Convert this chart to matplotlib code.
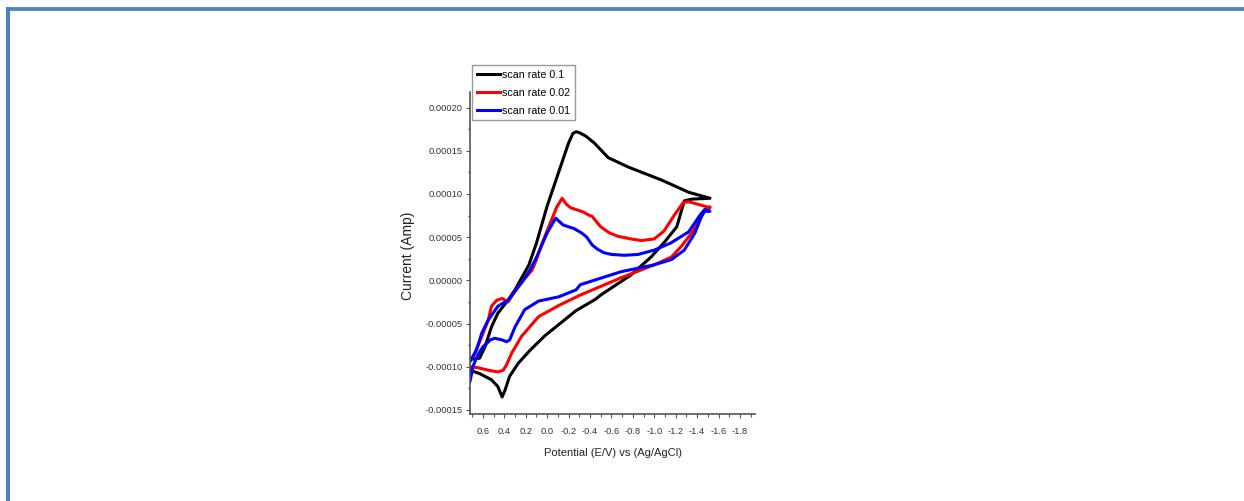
import matplotlib
matplotlib.use('Agg')
import matplotlib.pyplot as plt
from matplotlib.lines import Line2D
from matplotlib.ticker import FixedLocator, FormatStrFormatter
import numpy as np

# currents are in units of 1e-5 A, potentials in V vs Ag/AgCl
# scan rate 0.1
e_fwd_01 = [0.80, 0.72, 0.63, 0.52, 0.46, 0.42, 0.39, 0.35, 0.27, 0.16, 0.02, -0.12,
            -0.27, -0.45, -0.50, -0.78, -0.97, -1.10, -1.21, -1.28, -1.35, -1.52]
i_fwd_01 = [-10.2, -10.4, -10.8, -11.5, -12.3, -13.5, -12.6, -11.1, -9.6, -8.1, -6.4, -5.0,
            -3.5, -2.2, -1.7, 0.6, 2.7, 4.5, 6.2, 9.2, 9.4, 9.5]
e_rev_01 = [-1.52, -1.32, -1.07, -0.76, -0.57, -0.44, -0.36, -0.30, -0.27, -0.24, -0.20,
            0.00, 0.10, 0.17, 0.30, 0.365, 0.46, 0.52, 0.58, 0.63, 0.68, 0.80]
i_rev_01 = [9.5, 10.2, 11.6, 13.1, 14.2, 15.9, 16.7, 17.1, 17.2, 17.0, 15.9,
            8.6, 4.3, 1.8, -1.1, -2.3, -3.8, -5.4, -7.7, -9.0, -9.1, -9.1]

# scan rate 0.02
e_fwd_002 = [0.80, 0.72, 0.65, 0.55, 0.46, 0.41, 0.38, 0.33, 0.24, 0.08, -0.11, -0.31,
             -0.69, -1.00, -1.16, -1.25, -1.35, -1.44, -1.49, -1.52]
i_fwd_002 = [-9.9, -10.0, -10.1, -10.4, -10.6, -10.4, -9.8, -8.4, -6.5, -4.2, -2.9, -1.7,
             0.3, 1.8, 2.7, 3.9, 5.5, 7.4, 8.4, 8.5]
e_rev_002 = [-1.52, -1.41, -1.32, -1.27, -1.19, -1.09, -1.00, -0.88, -0.78, -0.66, -0.58,
             -0.50, -0.42, -0.38, -0.34, -0.22, -0.18, -0.14, -0.09, 0.06, 0.10, 0.14,
             0.27, 0.365, 0.42, 0.47, 0.52, 0.55, 0.61, 0.675, 0.72, 0.80]
i_rev_002 = [8.4, 8.8, 9.1, 9.0, 7.6, 5.7, 4.8, 4.6, 4.8, 5.1, 5.5,
             6.2, 7.4, 7.6, 7.9, 8.4, 8.8, 9.5, 8.5, 3.9, 2.4, 1.2,
             -0.7, -2.5, -2.1, -2.3, -3.0, -4.6, -6.5, -8.4, -9.4, -10.2]

# scan rate 0.01
e_fwd_001 = [0.80, 0.72, 0.69, 0.65, 0.60, 0.53, 0.49, 0.42, 0.38, 0.35, 0.30, 0.21,
             0.08, -0.11, -0.27, -0.31, -0.69, -1.00, -1.16, -1.28, -1.38, -1.44, -1.47, -1.52]
i_fwd_001 = [-14.0, -11.7, -9.9, -8.7, -7.7, -6.9, -6.7, -6.9, -7.1, -6.9, -5.4, -3.4,
             -2.4, -1.9, -1.1, -0.5, 1.0, 1.8, 2.4, 3.5, 5.5, 7.4, 8.0, 8.0]
e_rev_001 = [-1.52, -1.47, -1.43, -1.32, -1.15, -1.00, -0.85, -0.72, -0.60, -0.53, -0.47,
             -0.42, -0.37, -0.32, -0.25, -0.15, -0.08, 0.00, 0.08, 0.11, 0.16, 0.24,
             0.365, 0.46, 0.55, 0.61, 0.66, 0.71, 0.80]
i_rev_001 = [8.0, 8.2, 7.6, 5.6, 4.3, 3.5, 3.0, 2.9, 3.0, 3.2, 3.6,
             4.1, 5.0, 5.5, 6.0, 6.4, 7.2, 5.5, 3.2, 2.4, 1.2, -0.3,
             -2.3, -3.0, -4.6, -6.1, -8.1, -9.2, -10.5]

labels = ['scan rate 0.1', 'scan rate 0.02', 'scan rate 0.01']
colors = ['#000000', '#ff0000', '#0000ff']

x_ticks = [0.6, 0.4, 0.2, 0.0, -0.2, -0.4, -0.6, -0.8, -1.0, -1.2, -1.4, -1.6, -1.8]
x_minor = [0.7, 0.5, 0.3, 0.1, -0.1, -0.3, -0.5, -0.7, -0.9, -1.1, -1.3, -1.5, -1.7, -1.9]
y_ticks = [-0.00015, -0.0001, -0.00005, 0.0, 0.00005, 0.0001, 0.00015, 0.0002]
y_minor = [-0.000125, -0.000075, -0.000025, 0.000025, 0.000075, 0.000125, 0.000175]

plt.rcParams['font.family'] = ['Liberation Sans', 'DejaVu Sans']

W, H = 1244, 501
fig = plt.figure(figsize=(W / 100, H / 100), dpi=100)

# page frame lines (top and left)
fig.add_artist(Line2D([6 / W, 1], [1 - 9.2 / H] * 2, transform=fig.transFigure,
                      color='#4f81bd', lw=2.7, solid_capstyle='butt'))
fig.add_artist(Line2D([8 / W] * 2, [0, 1 - 7 / H], transform=fig.transFigure,
                      color='#4f81bd', lw=2.9, solid_capstyle='butt'))

ax = fig.add_axes([470 / W, 1 - 414 / H, 285 / W, 322 / H])

curves = [
    (e_fwd_01, i_fwd_01, e_rev_01, i_rev_01),
    (e_fwd_002, i_fwd_002, e_rev_002, i_rev_002),
    (e_fwd_001, i_fwd_001, e_rev_001, i_rev_001),
]
for (ef, jf, er, jr), c, lab in zip(curves, colors, labels):
    e = np.concatenate([ef, er])
    i = np.concatenate([jf, jr]) * 1e-5
    ax.plot(e, i, color=c, lw=2.2, label=lab, solid_joinstyle='round')

ax.set_xlim(0.72, -1.94)
ax.set_ylim(-0.0001547, 0.000218)

for s in ['top', 'right']:
    ax.spines[s].set_visible(False)
for s in ['left', 'bottom']:
    ax.spines[s].set_linewidth(1.2)
    ax.spines[s].set_color('#555555')

ax.xaxis.set_major_locator(FixedLocator(x_ticks))
ax.xaxis.set_minor_locator(FixedLocator(x_minor))
ax.yaxis.set_major_locator(FixedLocator(y_ticks))
ax.yaxis.set_minor_locator(FixedLocator(y_minor))
ax.xaxis.set_major_formatter(FormatStrFormatter('%.1f'))
ax.yaxis.set_major_formatter(FormatStrFormatter('%.5f'))
ax.tick_params(which='major', direction='out', length=3, width=0.8, color='#555555',
               labelsize=6.7, labelcolor='#333333', pad=2.5)
ax.tick_params(axis='x', which='major', pad=6)
ax.tick_params(which='minor', direction='out', length=1.8, width=0.8, color='#555555')

ax.set_xlabel('Potential (E/V) vs (Ag/AgCl)', fontsize=8, color='#222222')
ax.xaxis.set_label_coords(0.5, -0.105)
ax.set_ylabel('Current (Amp)', fontsize=10, color='#222222')
ax.yaxis.set_label_coords(-0.193, 0.49)

leg = ax.legend(loc='upper left', bbox_to_anchor=(472 / W, 1 - 65 / H),
                bbox_transform=fig.transFigure, borderaxespad=0, fancybox=False,
                edgecolor='#999999', framealpha=1, handlelength=2.2, handletextpad=0.2,
                borderpad=0.45, labelspacing=0.74, prop={'size': 7.7})
leg.get_frame().set_linewidth(1.0)
for line in leg.get_lines():
    line.set_linewidth(2.2)

fig.savefig('out.png', dpi=100)
